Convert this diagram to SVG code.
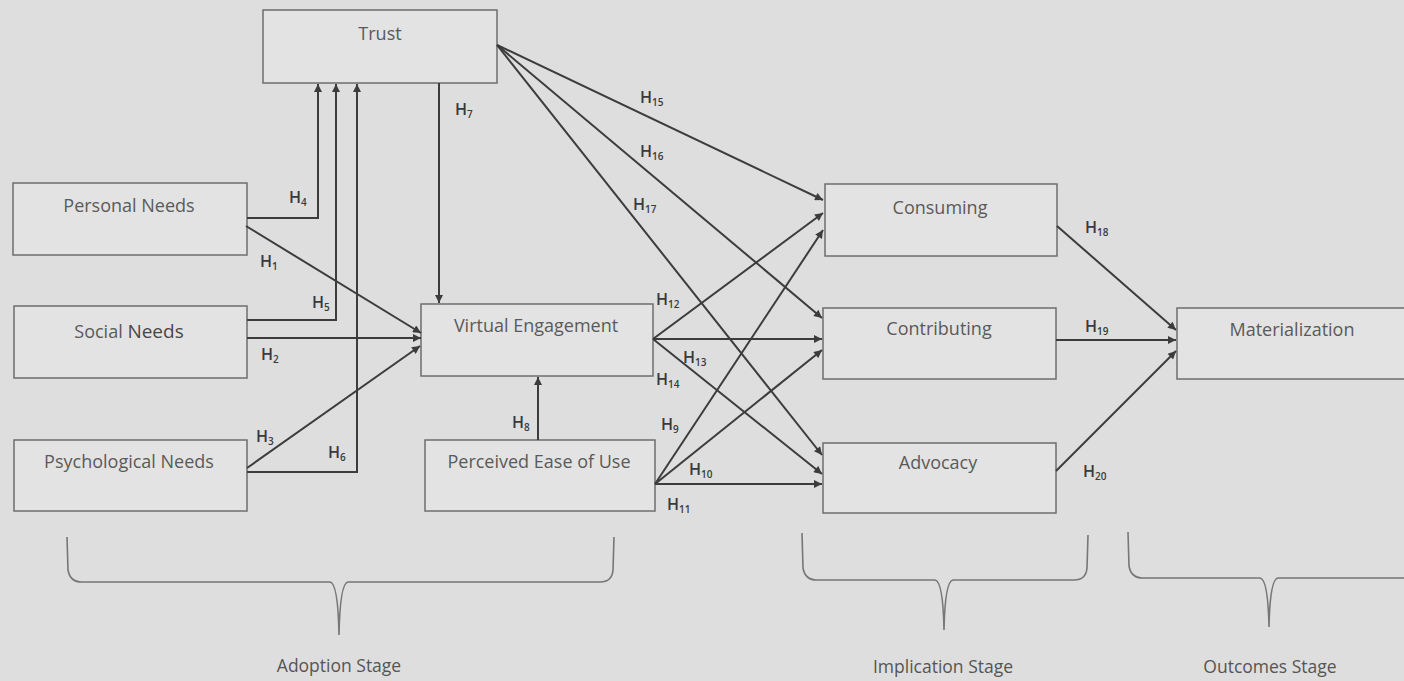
<svg xmlns="http://www.w3.org/2000/svg" width="1404" height="681" viewBox="0 0 1404 681">
<defs>
<style>
.box{fill:#e3e3e3;stroke:#6e6e6e;stroke-width:1.5}
.lbl{font-family:"Open Sans","Liberation Sans",sans-serif;font-size:18px;fill:#5a5a5a;text-anchor:middle}
.c{fill:none;stroke:#3c3c3c;stroke-width:2}
.h{font-family:"Open Sans","Liberation Sans",sans-serif;font-size:16px;font-weight:600;fill:#3a3a3a}
.s{font-size:10px}
.br{fill:none;stroke:#777;stroke-width:1.6}
.st{font-family:"Open Sans","Liberation Sans",sans-serif;font-size:17.5px;fill:#555;text-anchor:middle}
</style>
<marker id="ah" viewBox="0 0 10 10" refX="10" refY="5" markerWidth="9" markerHeight="8" markerUnits="userSpaceOnUse" orient="auto"><path d="M0,0 L10,5 L0,10 z" fill="#3c3c3c"/></marker>
</defs>
<rect width="1404" height="681" fill="#dedede"/>

<g id="trust"><rect class="box" x="263" y="10" width="234" height="73"/><text class="lbl" x="380" y="40">Trust</text></g>
<g id="personal-needs"><rect class="box" x="13" y="183" width="234" height="72"/><text class="lbl" x="129" y="212">Personal Needs</text></g>
<g id="social-needs"><rect class="box" x="14" y="306" width="233" height="72"/><text class="lbl" x="129" y="338">Social <tspan fill="#474747" font-size="19">Needs</tspan></text></g>
<g id="psychological-needs"><rect class="box" x="14" y="440" width="233" height="71"/><text class="lbl" x="129" y="468">Psychological Needs</text></g>
<g id="virtual-engagement"><rect class="box" x="421" y="304" width="232" height="72"/><text class="lbl" x="536" y="332">Virtual Engagement</text></g>
<g id="perceived-ease"><rect class="box" x="425" y="440" width="230" height="71"/><text class="lbl" x="539" y="468">Perceived Ease of Use</text></g>
<g id="consuming"><rect class="box" x="825" y="184" width="232" height="72"/><text class="lbl" x="940" y="214">Consuming</text></g>
<g id="contributing"><rect class="box" x="823" y="308" width="233" height="71"/><text class="lbl" x="939" y="335">Contributing</text></g>
<g id="advocacy"><rect class="box" x="823" y="443" width="233" height="70"/><text class="lbl" x="938" y="469">Advocacy</text></g>
<g id="materialization"><rect class="box" x="1177" y="308" width="233" height="71"/><text class="lbl" x="1292" y="336">Materialization</text></g>

<g id="connectors">
<path class="c" d="M247,218 L318,218 L318,84" marker-end="url(#ah)"/>
<path class="c" d="M247,320 L336,320 L336,84" marker-end="url(#ah)"/>
<path class="c" d="M247,472 L357,472 L357,84" marker-end="url(#ah)"/>
<path class="c" d="M246,226 L421,333" marker-end="url(#ah)"/>
<path class="c" d="M247,338 L421,338" marker-end="url(#ah)"/>
<path class="c" d="M247,468 L420,346" marker-end="url(#ah)"/>
<path class="c" d="M439,83 L439,303" marker-end="url(#ah)"/>
<path class="c" d="M538,440 L538,377" marker-end="url(#ah)"/>
<path class="c" d="M497,45 L823,200" marker-end="url(#ah)"/>
<path class="c" d="M497,45 L822,318" marker-end="url(#ah)"/>
<path class="c" d="M497,45 L822,455" marker-end="url(#ah)"/>
<path class="c" d="M653,339 L823,213" marker-end="url(#ah)"/>
<path class="c" d="M653,339 L822,339" marker-end="url(#ah)"/>
<path class="c" d="M653,339 L822,474" marker-end="url(#ah)"/>
<path class="c" d="M655,484 L823,230" marker-end="url(#ah)"/>
<path class="c" d="M655,484 L822,350" marker-end="url(#ah)"/>
<path class="c" d="M655,484 L822,484" marker-end="url(#ah)"/>
<path class="c" d="M1057,226 L1176,330" marker-end="url(#ah)"/>
<path class="c" d="M1056,340 L1176,340" marker-end="url(#ah)"/>
<path class="c" d="M1056,471 L1176,351" marker-end="url(#ah)"/>
</g>

<g id="labels">
<text class="h" x="289" y="203">H<tspan class="s" dy="3">4</tspan></text>
<text class="h" x="260" y="267">H<tspan class="s" dy="3">1</tspan></text>
<text class="h" x="312" y="308">H<tspan class="s" dy="3">5</tspan></text>
<text class="h" x="261" y="360">H<tspan class="s" dy="3">2</tspan></text>
<text class="h" x="256" y="442">H<tspan class="s" dy="3">3</tspan></text>
<text class="h" x="328" y="458">H<tspan class="s" dy="3">6</tspan></text>
<text class="h" x="455" y="115">H<tspan class="s" dy="3">7</tspan></text>
<text class="h" x="512" y="428">H<tspan class="s" dy="3">8</tspan></text>
<text class="h" x="661" y="430">H<tspan class="s" dy="3">9</tspan></text>
<text class="h" x="689" y="475">H<tspan class="s" dy="3">10</tspan></text>
<text class="h" x="667" y="510">H<tspan class="s" dy="3">11</tspan></text>
<text class="h" x="656" y="305">H<tspan class="s" dy="3">12</tspan></text>
<text class="h" x="683" y="363">H<tspan class="s" dy="3">13</tspan></text>
<text class="h" x="656" y="385">H<tspan class="s" dy="3">14</tspan></text>
<text class="h" x="640" y="103">H<tspan class="s" dy="3">15</tspan></text>
<text class="h" x="640" y="157">H<tspan class="s" dy="3">16</tspan></text>
<text class="h" x="633" y="210">H<tspan class="s" dy="3">17</tspan></text>
<text class="h" x="1085" y="233">H<tspan class="s" dy="3">18</tspan></text>
<text class="h" x="1085" y="332">H<tspan class="s" dy="3">19</tspan></text>
<text class="h" x="1083" y="477">H<tspan class="s" dy="3">20</tspan></text>
</g>

<g id="stages">
<path class="br" d="M67,537 L68,570 Q70,582 82,582 L330,582 Q338,583 339,635 Q340,583 348,582 L600,582 Q612,582 613,570 L614,537"/>
<path class="br" d="M802,533 L803,568 Q805,580 817,580 L935,580 Q943,581 944,630 Q945,581 953,580 L1074,580 Q1086,580 1087,568 L1088,535"/>
<path class="br" d="M1128,532 L1129,566 Q1131,578 1143,578 L1260,578 Q1268,579 1269,627 Q1270,579 1278,578 L1410,578"/>
<text class="st" x="339" y="672">Adoption Stage</text>
<text class="st" x="943" y="673">Implication Stage</text>
<text class="st" x="1270" y="673">Outcomes Stage</text>
</g>
</svg>
